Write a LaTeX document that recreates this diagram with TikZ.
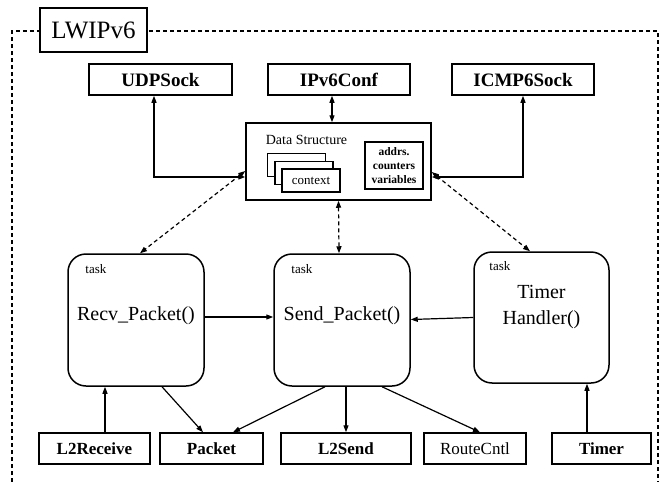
\documentclass[tikz,border=0pt]{standalone}
\usepackage{fontspec}
\setmainfont{Liberation Serif}
\usetikzlibrary{arrows.meta}
\begin{document}
\begin{tikzpicture}[x=1pt,y=-1pt,
  box/.style={draw,line width=1.5pt,inner sep=0pt,fill=white},
  topbox/.style={box,minimum width=142pt,minimum height=31pt,font=\bfseries\fontsize{19}{21}\selectfont},
  botbox/.style={box,minimum height=31pt,font=\bfseries\fontsize{17}{19}\selectfont},
  taskbox/.style={box,rounded corners=18pt,font=\fontsize{20}{26}\selectfont,align=center},
  tasklbl/.style={anchor=west,inner sep=0pt,font=\fontsize{13}{15}\selectfont},
  ctx/.style={draw,line width=1.4pt,fill=white,inner sep=0pt,minimum width=58pt,minimum height=23pt},
  arr/.style={line width=1.2pt,-{Triangle[length=7pt,width=5pt]}},
  barr/.style={line width=1.2pt,{Triangle[length=7pt,width=5pt]}-{Triangle[length=7pt,width=5pt]}},
  dbarr/.style={barr,dash pattern=on 4pt off 3pt},
]
\useasboundingbox (0,0) rectangle (662,482);
% outer dashed frame
\draw[line width=1.1pt,dash pattern=on 4pt off 3pt] (12,482) -- (12,31) -- (658,31) -- (658,482);
\node[box,minimum width=107pt,minimum height=44pt,font=\fontsize{25}{28}\selectfont] (title) at (93.5,30) {LWIPv6};

% top boxes
\node[topbox,minimum width=143pt] (udp) at (160.5,79.5) {UDPSock};
\node[topbox] (conf) at (339,79.5) {IPv6Conf};
\node[topbox] (icmp) at (523,79.5) {ICMP6Sock};

% data structure
\node[box,minimum width=185pt,minimum height=77pt] (ds) at (338.5,161.5) {};
\node[inner sep=0pt,font=\fontsize{14}{16}\selectfont] (dstitle) at (306.5,139.5) {Data Structure};
\node[ctx] (c1) at (296.5,165) {};
\node[ctx] (c2) at (304,173) {};
\node[ctx,font=\fontsize{13}{15}\selectfont] (c3) at (311,180.5) {context};
\node[box,line width=1.6pt,minimum width=58pt,minimum height=47pt,align=center,font=\bfseries\fontsize{11.5}{14}\selectfont] (addr) at (394,165.5) {addrs.\\counters\\variables};

% tasks
\node[taskbox,minimum width=136pt,minimum height=132pt] (recv) at (136,320) {};
\node[inner sep=0pt,font=\fontsize{20}{26}\selectfont] (recvt) at (136,316) {Recv\_Packet()};
\node[taskbox,minimum width=136pt,minimum height=132pt] (send) at (342,320) {};
\node[inner sep=0pt,font=\fontsize{20}{26}\selectfont] (sendt) at (342,316) {Send\_Packet()};
\node[taskbox,minimum width=135pt,minimum height=131pt] (timer) at (541.5,317.5) {};
\node[inner sep=0pt,align=center,font=\fontsize{20}{26}\selectfont] (timert) at (541.5,307) {Timer\\Handler()};
\node[tasklbl] (t1) at ([xshift=18pt,yshift=-16pt]recv.north west) {task};
\node[tasklbl] (t2) at ([xshift=18pt,yshift=-16pt]send.north west) {task};
\node[tasklbl] (t3) at ([xshift=16pt,yshift=-15pt]timer.north west) {task};

% bottom boxes
\node[botbox,minimum width=111pt] (l2r) at (94.5,448.5) {L2Receive};
\node[botbox,minimum width=103pt] (pkt) at (211.5,448.5) {Packet};
\node[botbox,minimum width=130pt] (l2s) at (346,448.5) {L2Send};
\node[botbox,minimum width=102pt,font=\fontsize{17}{19}\selectfont] (rc) at (475,448.5) {RouteCntl};
\node[botbox,minimum width=99pt] (tmr) at (601.5,448.5) {Timer};

% top connectors
\draw[barr] ([xshift=-6.5pt]udp.south) |- ([yshift=-15.5pt]ds.west);
\draw[barr] (icmp.south) |- ([yshift=-15.5pt]ds.east);
\draw[barr] ([xshift=-7pt]conf.south) -- ([xshift=-6.5pt]ds.north);

% dashed connectors
\draw[dbarr] ([yshift=-9.5pt]ds.west) -- ([xshift=4pt]recv.north);
\draw[dbarr] (ds.south) -- ([xshift=-3pt]send.north);
\draw[dbarr] ([yshift=-10.5pt]ds.east) -- ([xshift=-11.5pt]timer.north);

% task connectors
\draw[arr] ([yshift=3pt]recv.east) -- ([yshift=3pt]send.west);
\draw[arr] (timer.west) -- ([yshift=0.5pt]send.east);

% bottom connectors
\draw[arr] ([xshift=10.5pt]l2r.north) -- ([xshift=-31pt]recv.south);
\draw[arr] ([xshift=26pt]recv.south) -- ([xshift=-8.5pt]pkt.north);
\draw[arr] ([xshift=-17pt]send.south) -- ([xshift=21.5pt]pkt.north);
\draw[arr] ([xshift=4pt]send.south) -- (l2s.north);
\draw[arr] ([xshift=40pt]send.south) -- ([xshift=5pt]rc.north);
\draw[arr] ([xshift=-14.5pt]tmr.north) -- ([xshift=45.5pt]timer.south);
\end{tikzpicture}
\end{document}
